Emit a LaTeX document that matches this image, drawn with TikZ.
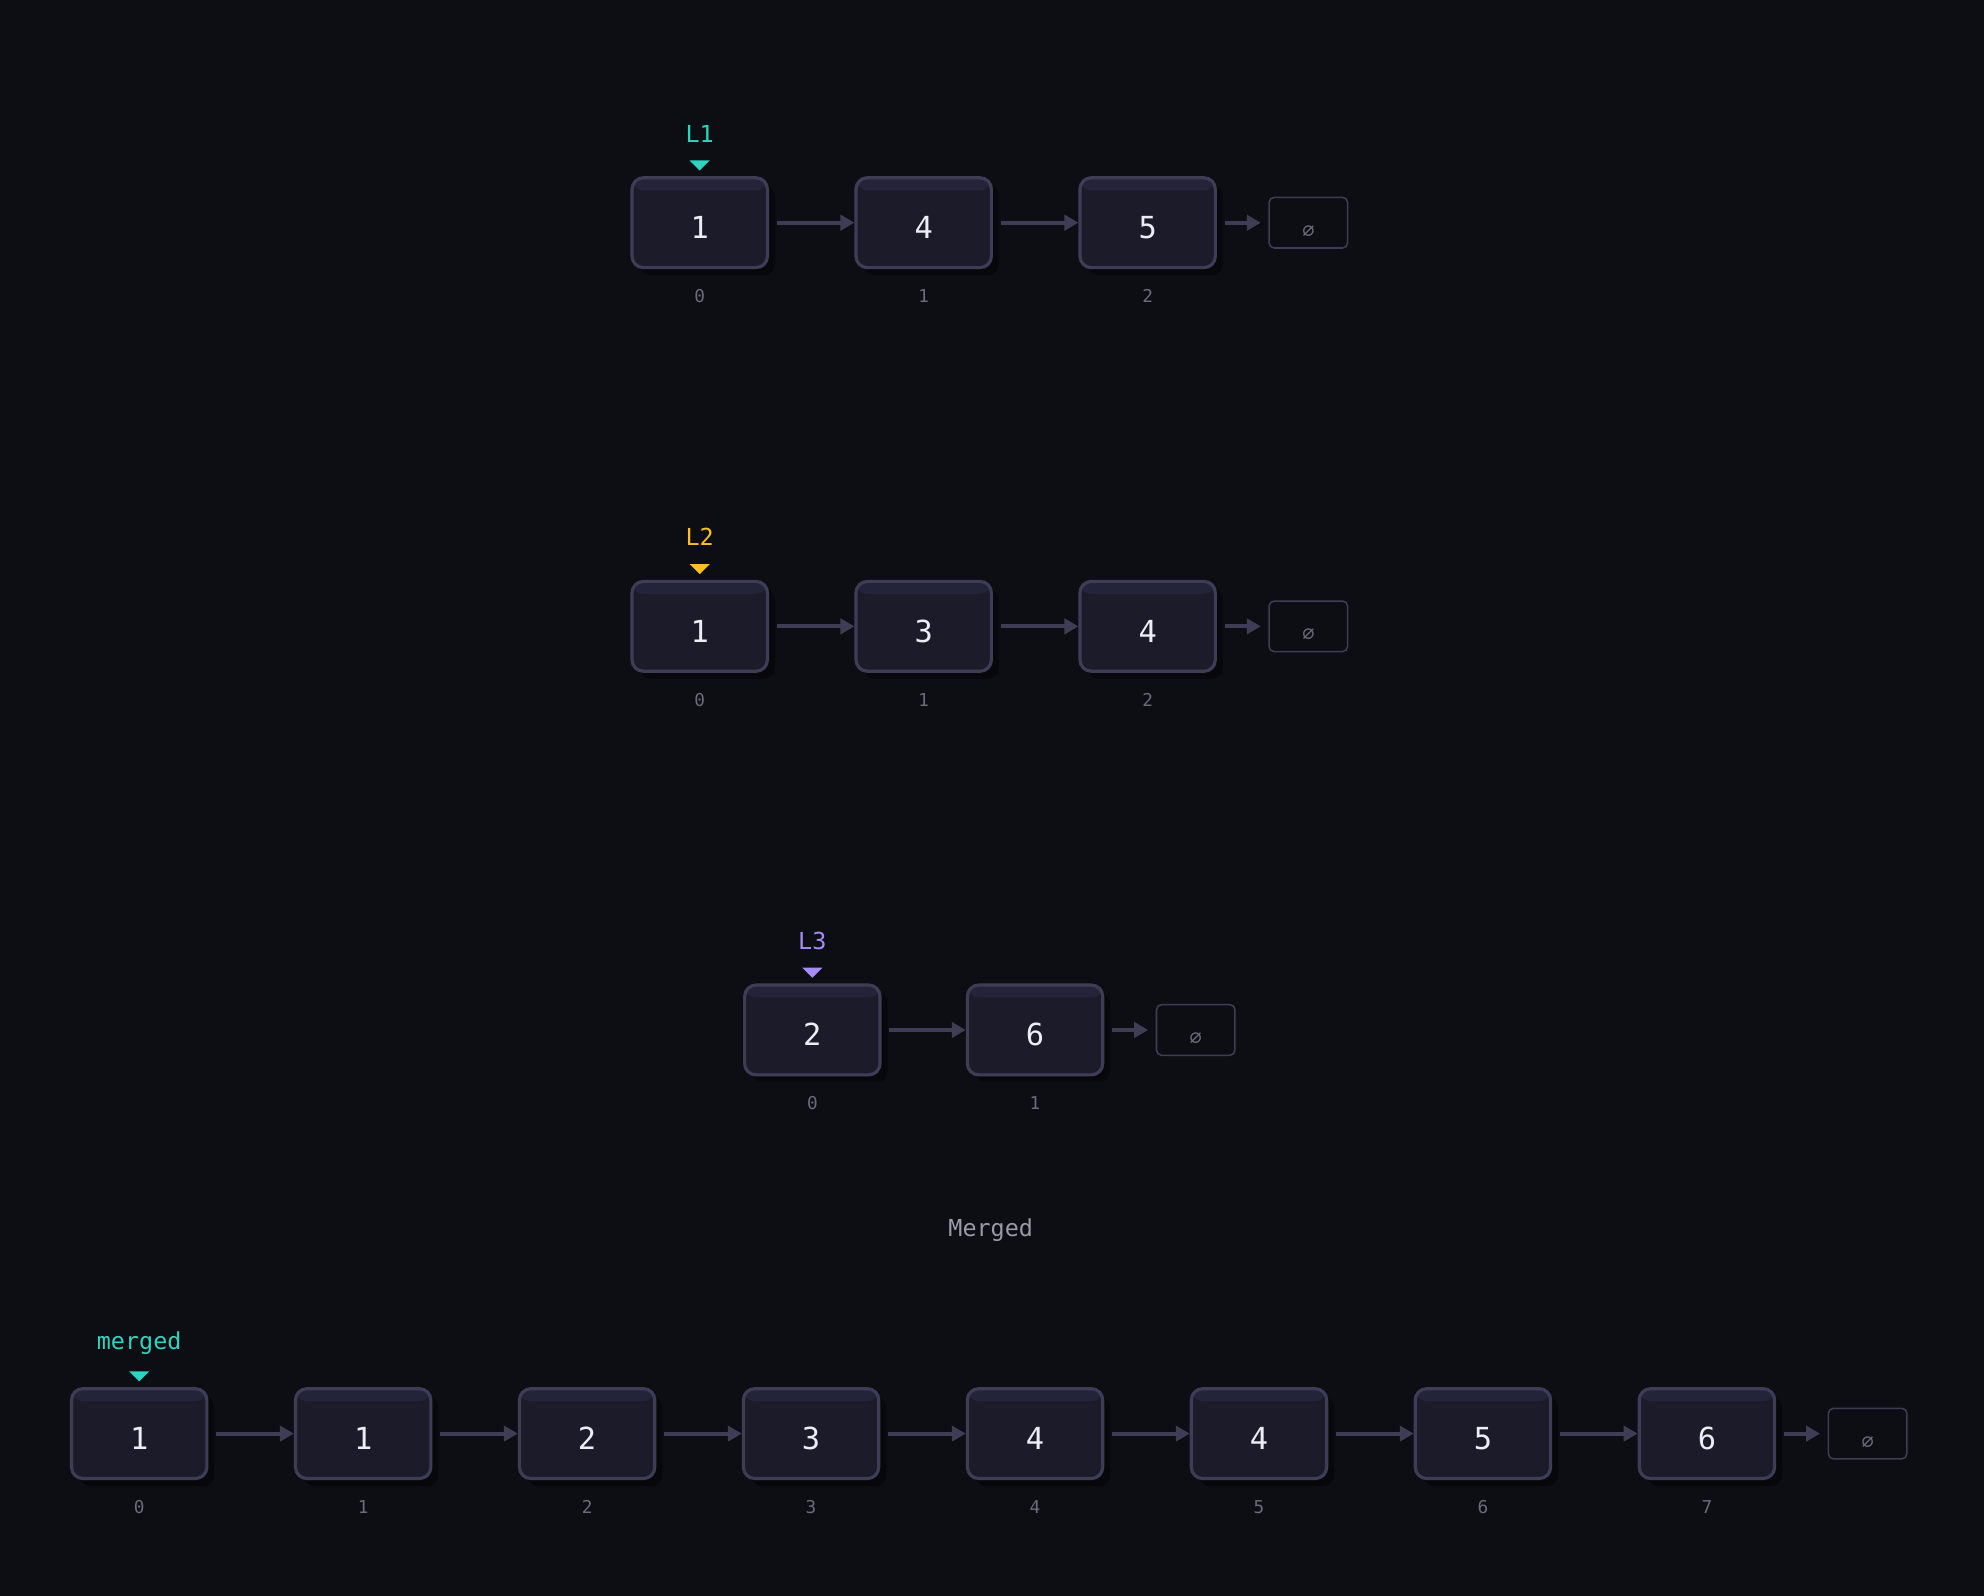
\documentclass[tikz,border=0pt]{standalone}
\usepackage{fontspec}
\setmonofont{DejaVu Sans Mono}
\usetikzlibrary{shadows,arrows.meta}

\definecolor{bgc}{HTML}{0D0E14}
\definecolor{cellfill}{HTML}{1C1B29}
\definecolor{cellband}{HTML}{23233A}
\definecolor{cellline}{HTML}{3F3D56}
\definecolor{shadowc}{HTML}{08080C}
\definecolor{celltext}{HTML}{EDEDF5}
\definecolor{idxc}{HTML}{6B6B7B}
\definecolor{titlec}{HTML}{9A9AA8}
\definecolor{tealc}{HTML}{2DD4BF}
\definecolor{amberc}{HTML}{FBBF24}
\definecolor{purplec}{HTML}{A78BFA}

\tikzset{
  cell/.style={rectangle, rounded corners=9pt, minimum width=107pt, minimum height=71pt,
    draw=cellline, line width=2.5pt, fill=cellfill, text=celltext,
    font=\ttfamily\fontsize{24}{28}\selectfont, text height=25pt, text depth=0pt,
    path picture={\fill[cellband] ([yshift=2pt]path picture bounding box.north west)
      rectangle ([yshift=-10pt]path picture bounding box.north east);},
    drop shadow={shadow xshift=6pt, shadow yshift=-6pt, fill=shadowc, opacity=1}},
  nullbox/.style={rectangle, rounded corners=4pt, minimum width=62pt, minimum height=40pt,
    draw=cellline, line width=1.2pt, text=idxc, font=\ttfamily\fontsize{16}{18}\selectfont,
    text height=23pt, text depth=0pt},
  idx/.style={text=idxc, font=\ttfamily\fontsize{14}{16}\selectfont},
  head/.style={font=\ttfamily\fontsize{18.5}{21}\selectfont},
  link/.style={draw=cellline, line width=3pt, -{Triangle[length=11pt,width=12pt]}, shorten <=6pt},
}

\begin{document}
\begin{tikzpicture}[x=1pt,y=-1pt]

  \fill[bgc] (0,0) rectangle (1568,1261);
  \useasboundingbox (0,0) rectangle (1568,1261);

  % list L1
  \node[cell] (a1) at (553,176) {1};
  \node[cell] (a2) at (730,176) {4};
  \node[cell] (a3) at (907,176) {5};
  \node[nullbox] (an) at (1034,176) {∅};
  \node[idx] (ai1) at (553,234) {0};
  \node[idx] (ai2) at (730,234) {1};
  \node[idx] (ai3) at (907,234) {2};
  \node[head,text=tealc] (la) at (553,105.5) {L1};
  \fill[tealc] ([xshift=-8pt,yshift=12.5pt]a1.north) -- ([xshift=8pt,yshift=12.5pt]a1.north)
    -- ([yshift=4.5pt]a1.north) -- cycle;

  % list L2
  \node[cell] (b1) at (553,495) {1};
  \node[cell] (b2) at (730,495) {3};
  \node[cell] (b3) at (907,495) {4};
  \node[nullbox] (bn) at (1034,495) {∅};
  \node[idx] (bi1) at (553,553) {0};
  \node[idx] (bi2) at (730,553) {1};
  \node[idx] (bi3) at (907,553) {2};
  \node[head,text=amberc] (lb) at (553,424.5) {L2};
  \fill[amberc] ([xshift=-8pt,yshift=12.5pt]b1.north) -- ([xshift=8pt,yshift=12.5pt]b1.north)
    -- ([yshift=4.5pt]b1.north) -- cycle;

  % list L3
  \node[cell] (c1) at (642,814) {2};
  \node[cell] (c2) at (818,814) {6};
  \node[nullbox] (cn) at (945,814) {∅};
  \node[idx] (ci1) at (642,872) {0};
  \node[idx] (ci2) at (818,872) {1};
  \node[head,text=purplec] (lc) at (642,743.5) {L3};
  \fill[purplec] ([xshift=-8pt,yshift=12.5pt]c1.north) -- ([xshift=8pt,yshift=12.5pt]c1.north)
    -- ([yshift=4.5pt]c1.north) -- cycle;

  \node[head,text=titlec] (title) at (783,972.5) {Merged};

  % merged list
  \node[cell] (m1) at (110,1133) {1};
  \node[cell] (m2) at (287,1133) {1};
  \node[cell] (m3) at (464,1133) {2};
  \node[cell] (m4) at (641,1133) {3};
  \node[cell] (m5) at (818,1133) {4};
  \node[cell] (m6) at (995,1133) {4};
  \node[cell] (m7) at (1172,1133) {5};
  \node[cell] (m8) at (1349,1133) {6};
  \node[nullbox] (mn) at (1476,1133) {∅};
  \node[idx] (mi1) at (110,1191) {0};
  \node[idx] (mi2) at (287,1191) {1};
  \node[idx] (mi3) at (464,1191) {2};
  \node[idx] (mi4) at (641,1191) {3};
  \node[idx] (mi5) at (818,1191) {4};
  \node[idx] (mi6) at (995,1191) {5};
  \node[idx] (mi7) at (1172,1191) {6};
  \node[idx] (mi8) at (1349,1191) {7};
  \node[head,text=tealc] (lm) at (110,1061.5) {merged};
  \fill[tealc] ([xshift=-8pt,yshift=12.5pt]m1.north) -- ([xshift=8pt,yshift=12.5pt]m1.north)
    -- ([yshift=4.5pt]m1.north) -- cycle;

  % links
  \path (a1) edge[link] (a2);
  \path (a2) edge[link] (a3);
  \path (a3) edge[link,shorten >=6pt] (an);
  \path (b1) edge[link] (b2);
  \path (b2) edge[link] (b3);
  \path (b3) edge[link,shorten >=6pt] (bn);
  \path (c1) edge[link] (c2);
  \path (c2) edge[link,shorten >=6pt] (cn);
  \path (m1) edge[link] (m2);
  \path (m2) edge[link] (m3);
  \path (m3) edge[link] (m4);
  \path (m4) edge[link] (m5);
  \path (m5) edge[link] (m6);
  \path (m6) edge[link] (m7);
  \path (m7) edge[link] (m8);
  \path (m8) edge[link,shorten >=6pt] (mn);

\end{tikzpicture}
\end{document}
